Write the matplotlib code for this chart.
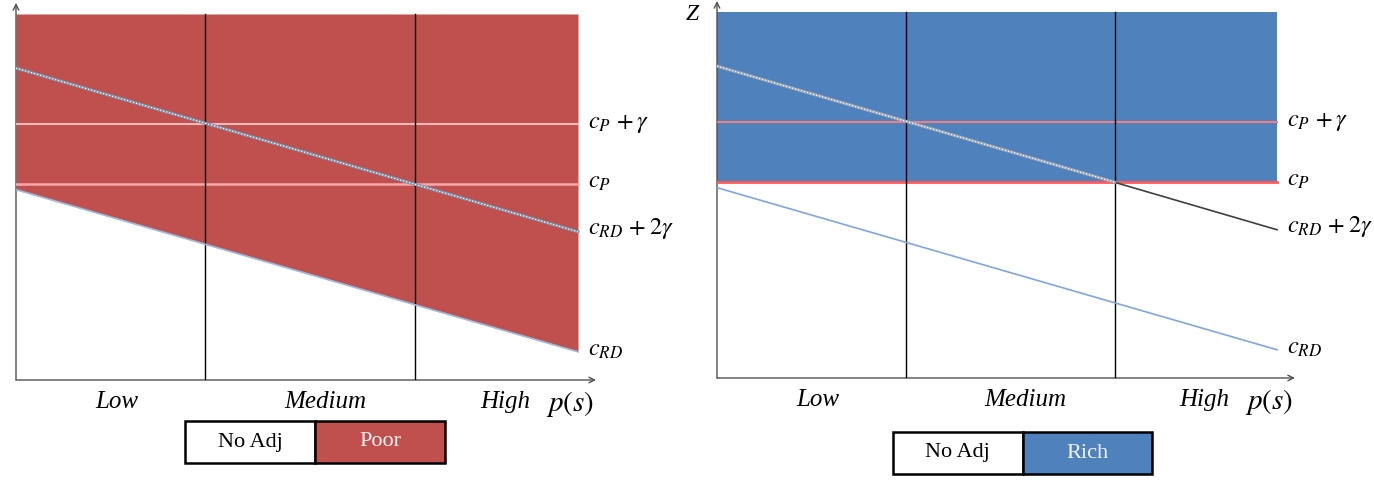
import matplotlib
matplotlib.use("Agg")
import matplotlib.pyplot as plt

plt.rcParams['font.family'] = ['Liberation Serif', 'DejaVu Serif']
plt.rcParams['mathtext.fontset'] = 'stix'

# p(s) region boundaries and labels
bounds = [0.337, 0.71]
regions = ['Low', 'Medium', 'High']
region_x = [0.18, 0.55, 0.87]

# cost levels (Z)
x_ends = [0.0, 1.0]
cp_gamma = 0.70
cp = 0.535
crd_2gamma = [0.852, 0.405]
crd = [0.52, 0.077]
level_labels = [r'$c_P\,+\gamma$', r'$c_P$', r'$c_{RD}\,+2\gamma$', r'$c_{RD}$']
label_y = [0.70, 0.54, 0.415, 0.08]

red = '#c0504d'
blue = '#4f81bd'


def base_axes(ax):
    ax.set_xlim(0, 1.032)
    ax.set_ylim(0, 1.03)
    ax.axis('off')
    # axes with arrows
    ax.annotate('', xy=(1.032, 0), xytext=(0, 0),
                arrowprops=dict(arrowstyle='->', color='#505050', lw=1, shrinkA=0, shrinkB=0),
                annotation_clip=False)
    ax.annotate('', xy=(0, 1.03), xytext=(0, 0),
                arrowprops=dict(arrowstyle='->', color='#505050', lw=1, shrinkA=0, shrinkB=0),
                annotation_clip=False)
    for b in bounds:
        ax.plot([b, b], [0, 1], color='black', lw=1, zorder=4)
    for t, xx in zip(regions, region_x):
        ax.text(xx, -0.06, t, ha='center', va='center', fontsize=18, style='italic')
    ax.text(0.985, -0.065, r'$p(s)$', ha='center', va='center', fontsize=21)
    for t, yy in zip(level_labels, label_y):
        ax.text(1.018, yy, t, ha='left', va='center', fontsize=17.5, clip_on=False)


def legend_box(rect, name, color):
    lax = fig.add_axes(rect)
    lax.axis('off')
    tab = lax.table(cellText=[['No Adj', name]], cellColours=[['white', color]],
                    cellLoc='center', bbox=[0, 0, 1, 1])
    tab.auto_set_font_size(False)
    for (r, c), cell in tab.get_celld().items():
        cell.set_linewidth(1.8)
        cell.set_edgecolor('black')
        cell.get_text().set_fontsize(16)
        if c == 1:
            cell.get_text().set_color('#f4f4f4')


fig = plt.figure(figsize=(13.74, 4.84), dpi=100)

# left panel: Poor
ax1 = fig.add_axes([16 / 1374, 104 / 484, 580 / 1374, 377 / 484])
base_axes(ax1)
ax1.fill_between(x_ends, crd, [1, 1], color=red, lw=0, zorder=1)
ax1.plot(x_ends, [cp_gamma, cp_gamma], color='#f4b8b8', lw=1.5, zorder=3)
ax1.plot(x_ends, [cp, cp], color='#f7a8a8', lw=1.8, zorder=3)
ax1.plot(x_ends, crd_2gamma, color='#8090a8', lw=2.2, zorder=5)
ax1.plot(x_ends, crd_2gamma, color='white', lw=0.9, ls=(0, (1, 1.5)), zorder=6)
ax1.plot(x_ends, crd, color='#9dbbe0', lw=1.2, zorder=5)

# right panel: Rich
ax2 = fig.add_axes([717 / 1374, 106 / 484, 578 / 1374, 377 / 484])
base_axes(ax2)
ax2.fill_between(x_ends, [cp, cp], [1, 1], color=blue, lw=0, zorder=1)
ax2.plot(x_ends, [cp_gamma, cp_gamma], color='#f08080', lw=1.5, zorder=3)
ax2.plot(x_ends, [cp, cp], color='#ff5a5a', lw=2, zorder=3)
ax2.plot(x_ends, crd_2gamma, color='#404040', lw=1.2, zorder=5)
ax2.plot([0, bounds[1]], [crd_2gamma[0], cp], color='#9aa6b8', lw=2.2, zorder=5)
ax2.plot([0, bounds[1]], [crd_2gamma[0], cp], color='white', lw=0.9, ls=(0, (1, 1.5)), zorder=6)
ax2.plot(x_ends, crd, color='#7fa7dd', lw=1.2, zorder=5)
fig.text(692 / 1374, 1 - 14 / 484, 'Z', ha='center', va='center', fontsize=17, style='italic')

legend_box([185 / 1374, 1 - 463 / 484, 260 / 1374, 42 / 484], 'Poor', red)
legend_box([893 / 1374, 1 - 474 / 484, 259 / 1374, 42 / 484], 'Rich', blue)

fig.savefig('out.png', dpi=100)
